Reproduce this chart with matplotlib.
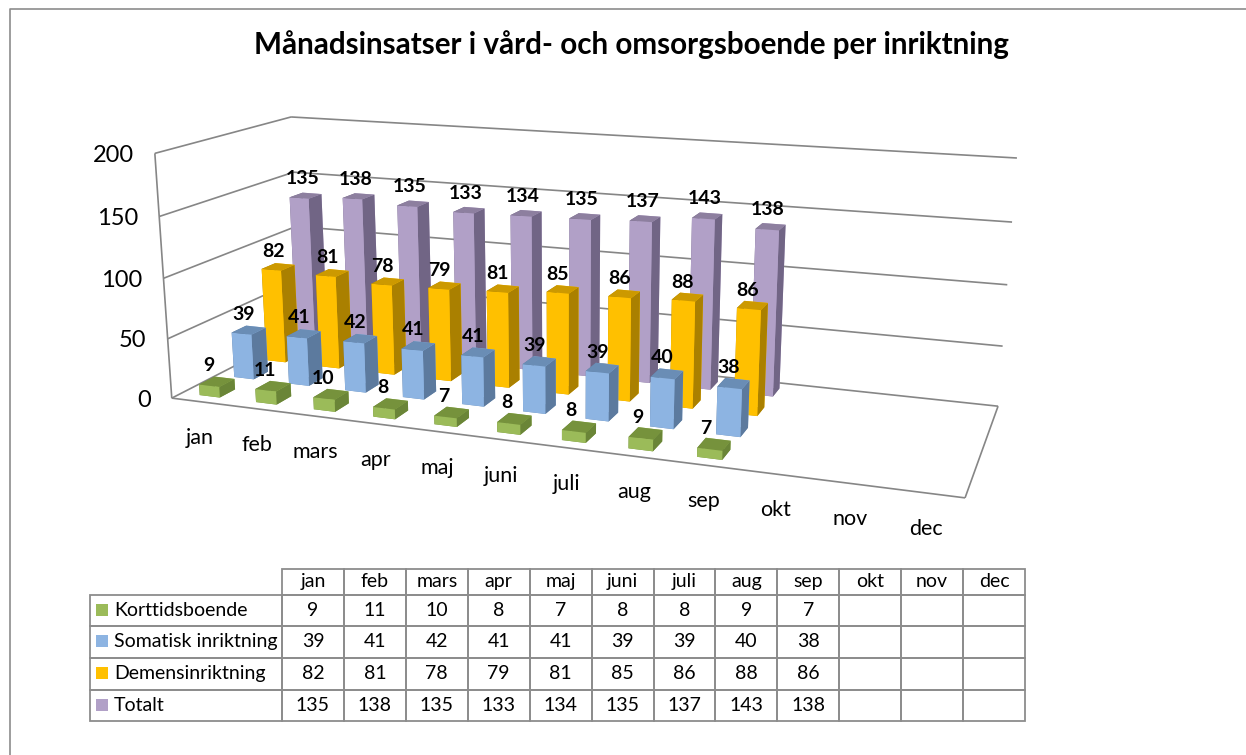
import numpy as np
import matplotlib
matplotlib.use("Agg")
import matplotlib.pyplot as plt
from matplotlib.table import Table
from mpl_toolkits.mplot3d import proj3d
from mpl_toolkits.mplot3d.art3d import Line3DCollection

plt.rcParams['font.family'] = ['Lato', 'DejaVu Sans']

TITLE = "Månadsinsatser i vård- och omsorgsboende per inriktning"
months = ["jan", "feb", "mars", "apr", "maj", "juni", "juli", "aug", "sep", "okt", "nov", "dec"]
series_names = ["Korttidsboende", "Somatisk inriktning", "Demensinriktning", "Totalt"]
korttid = [9, 11, 10, 8, 7, 8, 8, 9, 7]
somatisk = [39, 41, 42, 41, 41, 39, 39, 40, 38]
demens = [82, 81, 78, 79, 81, 85, 86, 88, 86]
totalt = [135, 138, 135, 133, 134, 135, 137, 143, 138]
z_ticks = [0, 50, 100, 150, 200]

series = [korttid, somatisk, demens, totalt]
# front, top, side
palette = [("#9BBB59", "#76923C", "#6A8537"),
           ("#8DB4E2", "#6A8DB5", "#5C7A9E"),
           ("#FFC000", "#CC9900", "#AA8000"),
           ("#B1A0C7", "#8D7F9F", "#716585")]

W, H = 1246, 755
# camera calibration: box corner (month, depth, value) -> pixel in the picture
calib = [
    (0, 0, 0, 171, 398), (0, 0, 50, 168, 339), (0, 0, 100, 164, 278), (0, 0, 150, 160, 217), (0, 0, 200, 154, 153),
    (12, 0, 0, 965, 498),
    (12, 1, 0, 998, 406), (12, 1, 50, 1003, 346), (12, 1, 100, 1007, 285), (12, 1, 150, 1012, 222), (12, 1, 200, 1017, 158),
    (0, 1, 200, 291, 117), (0, 1, 0, 301, 332),
]
A = []
for x, y, z, u, v in calib:
    p = [x, y, z / 100, 1]
    A.append(p + [0, 0, 0, 0] + [-u * c for c in p])
    A.append([0, 0, 0, 0] + p + [-v * c for c in p])
P = np.linalg.svd(np.array(A, float))[2][-1].reshape(3, 4)
P[:, 2] /= 100
P /= P[2, 3]
M = np.array([P[0], P[1], [-0.3, 1.0, -0.01, 0.0], P[2]])


def to_px(x, y, z):
    u, v, _ = proj3d.proj_transform(x, y, z, M)
    return float(u), float(v)


fig = plt.figure(figsize=(W / 100, H / 100), dpi=100, facecolor="white")

# 3D layer
ax = fig.add_axes([0, 0, 1, 1], projection="3d", computed_zorder=False, zorder=1)
ax.patch.set_alpha(0)
ax.set_axis_off()
ax.apply_aspect = lambda position=None: None
ax.get_proj = lambda: M
ax.viewLim.intervalx = (0, W)
ax.viewLim.intervaly = (H, 0)

GRID = "#868686"
segments = []
for z in z_ticks:
    segments.append([(0, 1, z), (12, 1, z)])
    segments.append([(0, 0, z), (0, 1, z)])
segments.append([(0, 0, 0), (12, 0, 0)])
segments.append([(12, 0, 0), (12, 1, 0)])
segments.append([(0, 0, 0), (0, 0, 200)])
ax.add_collection3d(Line3DCollection(segments, colors=GRID, linewidths=1.2, zorder=1))

BAR_W, BAR_D = 0.36, 0.11
row_y = [0.125, 0.375, 0.625, 0.875]
order = 2
for s in (3, 2, 1, 0):
    front, top, side = palette[s]
    # faces: -z, +z, -y, +y, -x, +x
    cols = [top, top, front, front, side, side]
    for j, v in enumerate(series[s]):
        xc = j + 0.5
        ax.bar3d([xc - BAR_W / 2], [row_y[s] - BAR_D / 2], [0], BAR_W, BAR_D, v,
                 color=cols, shade=False, linewidth=0, zorder=order)
        order += 1

# flat layer: border, table, legend keys, all text
flat = fig.add_axes([0, 0, 1, 1], zorder=2)
flat.set_xlim(0, W)
flat.set_ylim(H, 0)
flat.axis("off")
BORDER = "#8C8C8C"
flat.plot([9.5, 9.5, W], [H, 8.5, 8.5], color=BORDER, lw=1.2)

col_edges = np.linspace(282, 1025, 13)
row_edges = [569, 594.5, 626, 657.5, 689.5, 721]
tx0, tx1 = 90, 1025
ty0, ty1 = row_edges[0], row_edges[-1]
bbox = [tx0 / W, 1 - ty1 / H, (tx1 - tx0) / W, (ty1 - ty0) / H]
tbl = Table(flat, bbox=bbox)
TBL_FS = 14


def add(r, c, text, loc="center", edges="closed"):
    x0 = 90 if c == 0 else col_edges[c - 1]
    x1 = 282 if c == 0 else col_edges[c]
    cell = tbl.add_cell(r, c, width=x1 - x0, height=row_edges[r + 1] - row_edges[r],
                        text=text, loc=loc, facecolor="none", edgecolor=BORDER)
    cell.visible_edges = edges
    cell.set_linewidth(1.3)
    cell.get_text().set_fontsize(TBL_FS)
    cell.get_text().set_color("black")
    if c == 0:
        cell.PAD = 24 / 192
    return cell


add(0, 0, "", edges="")
for j, m in enumerate(months):
    add(0, j + 1, m)
for i, name in enumerate(series_names):
    add(i + 1, 0, name, loc="left")
    for j in range(12):
        add(i + 1, j + 1, str(series[i][j]) if j < len(series[i]) else "")
tbl.auto_set_font_size(False)
flat.add_table(tbl)
for i in range(4):
    ym = (row_edges[i + 1] + row_edges[i + 2]) / 2
    flat.scatter([102], [ym - 0.5], marker="s", s=70, color=palette[i][0], linewidths=0, zorder=5)

fig.suptitle(TITLE, x=632 / W, y=1 - 45 / H, va="center", ha="center",
             fontsize=21.3, fontweight="bold", color="black")

label_off = [(-8, -16), (-5, -16), (-5, -15), (-3, -17)]
for s in range(4):
    for j, v in enumerate(series[s]):
        u, w = to_px(j + 0.5, row_y[s], v)
        flat.text(u + label_off[s][0], w + label_off[s][1], str(v), ha="center", va="center",
                  fontsize=14, fontweight="bold", color="black", zorder=10)

for j, m in enumerate(months):
    u, w = to_px(j + 0.5, 0, 0)
    flat.text(u, w + 36, m, ha="center", va="center", fontsize=15.5, color="black", zorder=10)
for z in z_ticks:
    u, w = to_px(0, 0, z)
    flat.text(u - 21, w + 2, str(z), ha="right", va="center", fontsize=17, color="black", zorder=10)

fig.savefig("out.png", dpi=100)
